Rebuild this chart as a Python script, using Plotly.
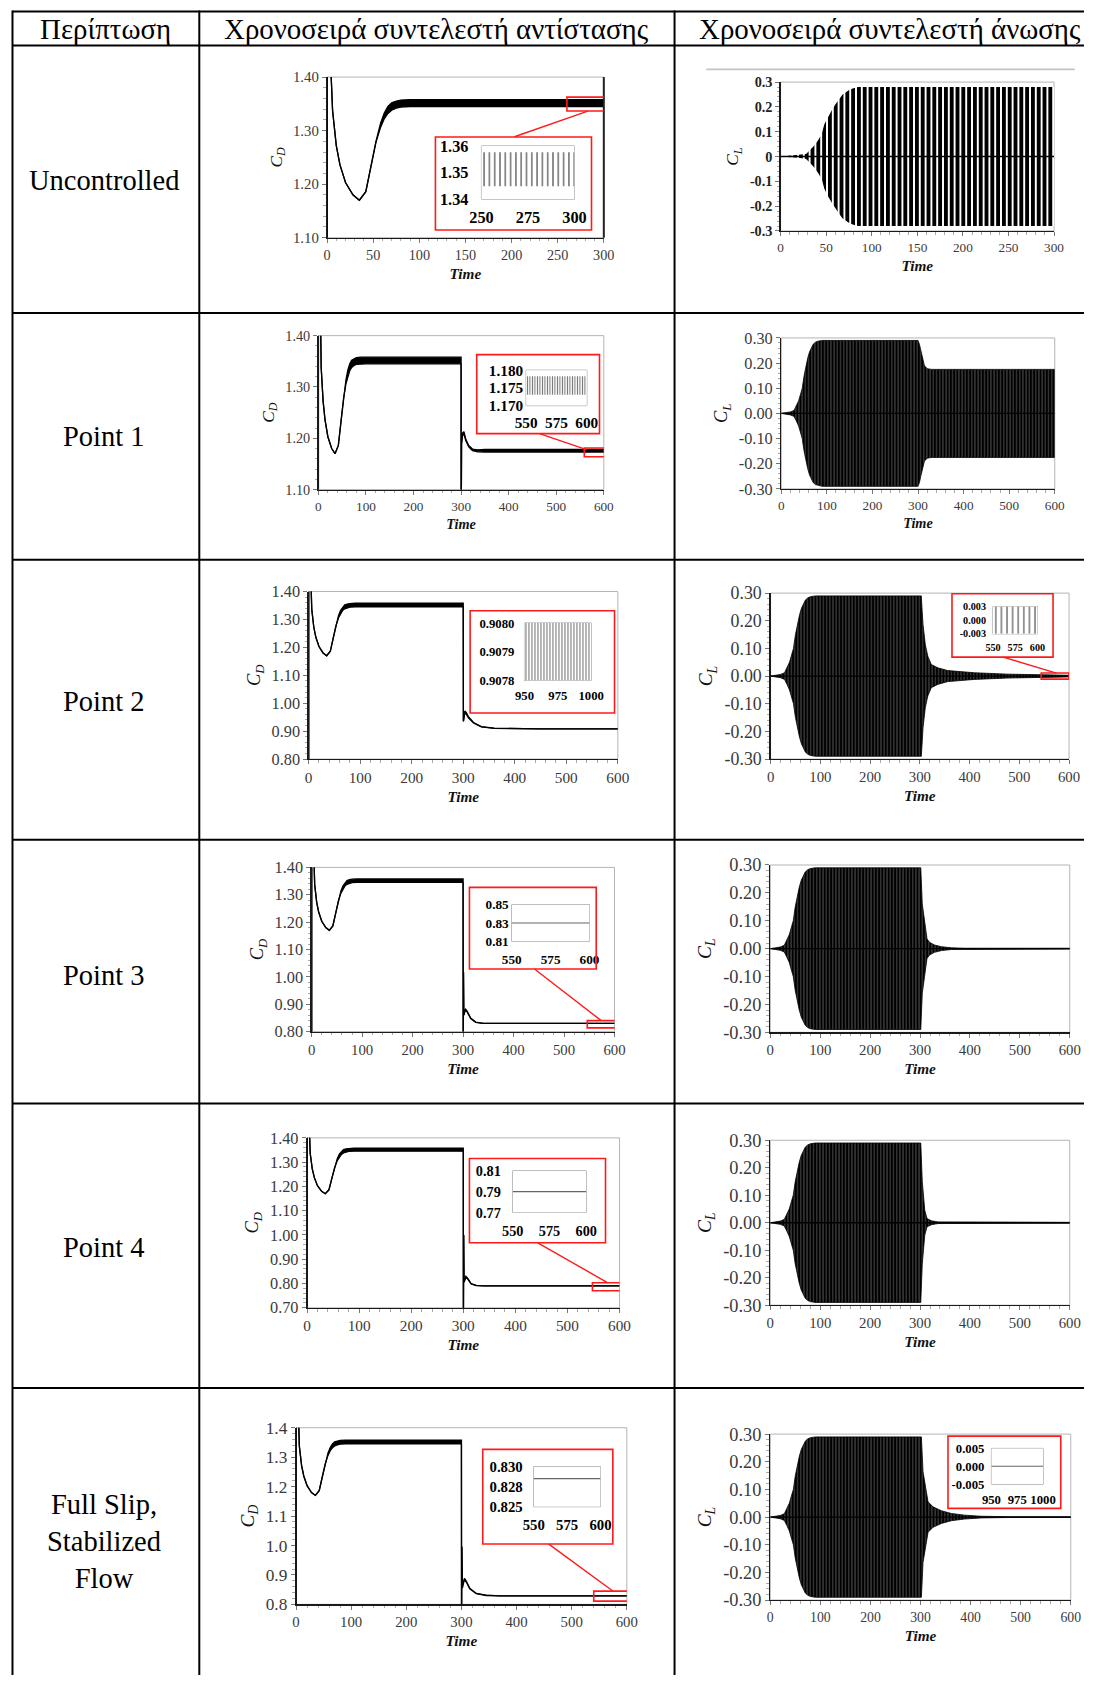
import plotly.graph_objects as go

W, H = 1097, 1685
# calibration of the photographed page: shown = S * page + O (measured on a previous render)
SX, OX = 0.9767, 11.8
SY, OY = 0.9886, 8.9
FSC = 1.0 / 0.982
SERIF = "Liberation Serif"

# ---------------- text ----------------
header_labels = ["Περίπτωση", "Χρονοσειρά συντελεστή αντίστασης", "Χρονοσειρά συντελεστή άνωσης"]
case_labels = ["Uncontrolled", "Point 1", "Point 2", "Point 3", "Point 4", "Full Slip,<br>Stabilized<br>Flow"]

# ---------------- tick values / labels ----------------
time_ticks_300 = [0, 50, 100, 150, 200, 250, 300]
time_ticks_600 = [0, 100, 200, 300, 400, 500, 600]
cd_ticks_a = [1.10, 1.20, 1.30, 1.40]
cd_text_a = ["1.10", "1.20", "1.30", "1.40"]
cd_ticks_b = [0.80, 0.90, 1.00, 1.10, 1.20, 1.30, 1.40]
cd_text_b = ["0.80", "0.90", "1.00", "1.10", "1.20", "1.30", "1.40"]
cd_ticks_c = [0.70, 0.80, 0.90, 1.00, 1.10, 1.20, 1.30, 1.40]
cd_text_c = ["0.70", "0.80", "0.90", "1.00", "1.10", "1.20", "1.30", "1.40"]
cd_text_d = ["0.8", "0.9", "1.0", "1.1", "1.2", "1.3", "1.4"]
cl_ticks = [-0.3, -0.2, -0.1, 0.0, 0.1, 0.2, 0.3]
cl_text_unc = ["-0.3", "-0.2", "-0.1", "0", "0.1", "0.2", "0.3"]
cl_text = ["-0.30", "-0.20", "-0.10", "0.00", "0.10", "0.20", "0.30"]

# ---------------- drag coefficient (upper / lower of the oscillation band) ----------------
cd_base_t = [0, 0.3, 2, 4, 6, 10, 14, 20, 28, 35, 42, 48, 53, 58, 62, 66, 70, 75, 80, 90, 100, 300]
cd_base_hi = [0.50, 3.00, 1.60, 1.42, 1.337, 1.272, 1.236, 1.203, 1.180, 1.170, 1.186, 1.236,
              1.280, 1.314, 1.333, 1.345, 1.352, 1.355, 1.357, 1.358, 1.358, 1.358]
cd_base_lo = [0.50, 3.00, 1.60, 1.42, 1.337, 1.272, 1.236, 1.203, 1.180, 1.170, 1.186, 1.236,
              1.278, 1.306, 1.322, 1.332, 1.338, 1.342, 1.344, 1.345, 1.345, 1.345]

cd_p1_t = [300.2, 301, 303, 306, 310, 316, 324, 335, 350, 600]
cd_p1_hi = [1.00, 1.190, 1.210, 1.213, 1.198, 1.186, 1.179, 1.1775, 1.1783, 1.1783]
cd_p1_lo = [1.00, 1.190, 1.205, 1.208, 1.195, 1.183, 1.176, 1.1735, 1.1731, 1.1731]

cd_p2_t = [300.3, 301.5, 303, 306, 310, 320, 335, 360, 400, 450, 600]
cd_p2_hi = [0.935, 0.962, 0.972, 0.966, 0.952, 0.931, 0.916, 0.911, 0.9087, 0.9080, 0.9080]
cd_p2_lo = [0.935, 0.955, 0.965, 0.960, 0.948, 0.929, 0.915, 0.910, 0.9085, 0.9078, 0.9078]

cd_p3_t = [300.2, 300.8, 301.5, 303, 305, 308, 315, 325, 340, 600]
cd_p3_hi = [0.70, 1.017, 0.860, 0.875, 0.882, 0.875, 0.850, 0.835, 0.830, 0.830]
cd_p3_lo = [0.70, 1.017, 0.860, 0.870, 0.878, 0.872, 0.848, 0.834, 0.830, 0.830]

cd_p4_t = [300.2, 300.8, 301.5, 302.5, 305, 309, 315, 325, 340, 600]
cd_p4_hi = [0.60, 1.000, 0.810, 0.815, 0.830, 0.820, 0.800, 0.792, 0.790, 0.790]
cd_p4_lo = [0.60, 1.000, 0.805, 0.810, 0.826, 0.817, 0.798, 0.791, 0.790, 0.790]

cd_fs_t = [300.2, 300.8, 301.8, 303, 305.5, 309, 315, 327, 345, 370, 600]
cd_fs_hi = [0.70, 0.996, 0.860, 0.872, 0.888, 0.878, 0.855, 0.837, 0.831, 0.8285, 0.8285]
cd_fs_lo = [0.70, 0.996, 0.855, 0.866, 0.884, 0.875, 0.853, 0.836, 0.830, 0.8285, 0.8285]

# ---------------- lift coefficient (oscillation amplitude envelope) ----------------
cl_unc_t = [0, 10, 20, 28, 32, 36, 41, 45, 48, 52, 56, 60, 64, 68, 72, 76, 80, 85, 90, 300]
cl_unc_amp = [0.0, 0.003, 0.005, 0.010, 0.025, 0.040, 0.065, 0.090, 0.130, 0.160, 0.185,
              0.210, 0.230, 0.250, 0.260, 0.270, 0.275, 0.280, 0.280, 0.280]

cl_base_t = [0, 10, 20, 28, 33, 38, 42, 46, 50, 54, 58, 62, 66, 70, 75, 80, 90, 300]
cl_base_amp = [0.0, 0.003, 0.006, 0.012, 0.030, 0.050, 0.075, 0.100, 0.150, 0.190, 0.220,
               0.245, 0.262, 0.275, 0.283, 0.287, 0.290, 0.290]

cl_p1_t = [303, 306, 310, 314, 320, 330, 600]
cl_p1_amp = [0.275, 0.250, 0.215, 0.190, 0.178, 0.175, 0.175]

cl_p2_t = [303, 304.5, 306.5, 311, 316, 323, 336, 356, 410, 477, 540, 600]
cl_p2_amp = [0.290, 0.240, 0.186, 0.114, 0.072, 0.042, 0.030, 0.020, 0.012, 0.007, 0.004, 0.003]

cl_p3_t = [301.5, 304.5, 309, 314, 319, 329, 343, 363, 390, 600]
cl_p3_amp = [0.290, 0.160, 0.100, 0.035, 0.023, 0.013, 0.007, 0.003, 0.0015, 0.0015]

cl_p4_t = [301.5, 304.5, 309.5, 314, 323, 336, 600]
cl_p4_amp = [0.290, 0.150, 0.045, 0.015, 0.007, 0.003, 0.0015]

cl_fs_t = [301.7, 305, 309.7, 315, 325, 341.6, 361.6, 388, 421, 475, 600]
cl_fs_amp = [0.290, 0.164, 0.116, 0.055, 0.037, 0.023, 0.013, 0.007, 0.003, 0.0015, 0.0015]

# ---------------- zoomed insets ----------------
ins_unc_t = [250, 300]
ins_unc_hi = [1.3577, 1.3577]
ins_unc_lo = [1.3448, 1.3448]
ins_unc_yt = [1.34, 1.35, 1.36]
ins_unc_ytxt = ["1.34", "1.35", "1.36"]
ins_xt_250 = [250, 275, 300]
ins_xt_550 = [550, 575, 600]
ins_xt_950 = [950, 975, 1000]

ins_p1_t = [550, 600]
ins_p1_hi = [1.1783, 1.1783]
ins_p1_lo = [1.1731, 1.1731]
ins_p1_yt = [1.170, 1.175, 1.180]
ins_p1_ytxt = ["1.170", "1.175", "1.180"]

ins_p2_t = [950, 1000]
ins_p2_hi = [0.90800, 0.90800]
ins_p2_lo = [0.90780, 0.90780]
ins_p2_yt = [0.9078, 0.9079, 0.9080]
ins_p2_ytxt = ["0.9078", "0.9079", "0.9080"]

ins_p2cl_t = [550, 600]
ins_p2cl_hi = [0.003, 0.003]
ins_p2cl_lo = [-0.003, -0.003]
ins_p2cl_yt = [-0.003, 0.0, 0.003]
ins_p2cl_ytxt = ["-0.003", "0.000", "0.003"]

ins_p3_t = [550, 600]
ins_p3_v = [0.83, 0.83]
ins_p3_yt = [0.81, 0.83, 0.85]
ins_p3_ytxt = ["0.81", "0.83", "0.85"]

ins_p4_t = [550, 600]
ins_p4_v = [0.79, 0.79]
ins_p4_yt = [0.77, 0.79, 0.81]
ins_p4_ytxt = ["0.77", "0.79", "0.81"]

ins_fs_t = [550, 600]
ins_fs_v = [0.8285, 0.8285]
ins_fs_yt = [0.825, 0.8275, 0.830]
ins_fs_ytxt = ["0.825", "0.828", "0.830"]

ins_fscl_t = [950, 1000]
ins_fscl_v = [0.0, 0.0]
ins_fscl_yt = [-0.005, 0.0, 0.005]
ins_fscl_ytxt = ["-0.005", "0.000", "0.005"]

# =====================================================================
fig = go.Figure()
layout = {}
shapes = []
annotations = []
counter = [0]


def px(x):
    return min(max(((x - OX) / SX) / W, 0.5 / W), 1.0)


def py(y):
    return max(min(1 - ((y - OY) / SY) / H, 1 - 0.5 / H), 0.0)


def fs(v):
    return round(v * FSC, 2)


def dom(box):
    x0, x1, y0, y1 = box
    return [px(x0), px(x1)], [py(y1), py(y0)]


def new_axes(box, xcfg, ycfg):
    counter[0] += 1
    n = counter[0]
    s = "" if n == 1 else str(n)
    xd, yd = dom(box)
    xcfg.update(domain=xd, anchor="y" + s)
    ycfg.update(domain=yd, anchor="x" + s)
    layout["xaxis" + s] = xcfg
    layout["yaxis" + s] = ycfg
    return "x" + s, "y" + s


def main_axis(rng, tv, tt, fsize, minor_dtick, title, tsize, bold=False, color="#3a3a3a",
              tstyle="normal", tweight="normal"):
    return dict(
        range=rng, tickmode="array", tickvals=tv, ticktext=tt,
        showline=True, linecolor="#1a1a1a", linewidth=1.3,
        ticks="outside", ticklen=4, tickcolor="#777", tickwidth=1,
        minor=dict(ticks="outside", ticklen=2.5, tickcolor="#aaa", tickmode="linear",
                   tick0=rng[0], dtick=minor_dtick, showgrid=False),
        tickfont=dict(family=SERIF, size=fs(fsize), color=color, weight="bold" if bold else "normal"),
        showgrid=False, zeroline=False, fixedrange=True,
        title=dict(text=title, font=dict(family=SERIF, size=fs(tsize), color="#111",
                                         style=tstyle, weight=tweight), standoff=6),
    )


def time_axis(xr, xt, xfs, tfs):
    return main_axis(xr, xt, [str(v) for v in xt], xfs, xr[1] / 30, "Time", tfs,
                     tstyle="italic", tweight="bold")


def frame(xa, ya, color="#b4b4b4", width=1):
    shapes.append(dict(type="rect", xref=xa + " domain", yref=ya + " domain", x0=0, x1=1, y0=0, y1=1,
                       line=dict(color=color, width=width), layer="below"))


def cd_panel(box, t, hi, lo, xr, xt, xfs, yr, yt, ytxt, yfs, tfs, ylabfs):
    xa, ya = new_axes(box, time_axis(xr, xt, xfs, tfs),
                      main_axis(yr, yt, ytxt, yfs, 0.02, "<i>C<sub>D</sub></i>", ylabfs))
    frame(xa, ya)
    fig.add_trace(go.Scatter(x=t, y=hi, mode="lines", line=dict(color="black", width=1.3),
                             xaxis=xa, yaxis=ya, showlegend=False, hoverinfo="skip"))
    fig.add_trace(go.Scatter(x=t, y=lo, mode="lines", line=dict(color="black", width=1.3),
                             fill="tonexty", fillcolor="black",
                             xaxis=xa, yaxis=ya, showlegend=False, hoverinfo="skip"))
    return xa, ya


def cl_panel(box, t, amp, xr, xt, xfs, ytxt, yfs, tfs, ylabfs, pattern, edge, bold=False):
    xa, ya = new_axes(box, time_axis(xr, xt, xfs, tfs),
                      main_axis([-0.3, 0.3], cl_ticks, ytxt, yfs, 0.02, "<i>C<sub>L</sub></i>", ylabfs,
                                bold=bold, color="#222" if bold else "#3a3a3a"))
    frame(xa, ya)
    xs = list(t) + list(t)[::-1]
    ys = list(amp) + [-a for a in amp][::-1]
    fig.add_trace(go.Scatter(x=xs, y=ys, mode="lines", fill="toself",
                             line=dict(color="black", width=edge), fillpattern=pattern,
                             xaxis=xa, yaxis=ya, showlegend=False, hoverinfo="skip"))
    mid = [(a + (-a)) / 2 for a in amp]
    fig.add_trace(go.Scatter(x=t, y=mid, mode="lines", line=dict(color="black", width=1.4),
                             xaxis=xa, yaxis=ya, showlegend=False, hoverinfo="skip"))
    return xa, ya


# dense cycles: black with thin light gaps; uncontrolled: separate black strokes
DENSE = dict(shape="|", size=3.2, solidity=0.16, fgcolor="#9a9a9a", bgcolor="black", fillmode="replace")
SPARSE = dict(shape="|", size=5.8, solidity=0.66, fgcolor="black", bgcolor="white", fillmode="replace")


def inset_axes(box, xr, xt, yr, yt, ytxt, fsize, ygap, xgap):
    ax = dict(range=xr, tickmode="array", tickvals=xt, ticktext=[str(v) for v in xt],
              showline=False, ticks="", showgrid=False, zeroline=False, fixedrange=True,
              ticklabelstandoff=xgap,
              tickfont=dict(family=SERIF, size=fs(fsize), color="black", weight="bold"))
    ay = dict(range=yr, tickmode="array", tickvals=yt, ticktext=ytxt,
              showline=False, ticks="", showgrid=False, zeroline=False, fixedrange=True,
              ticklabelstandoff=ygap,
              tickfont=dict(family=SERIF, size=fs(fsize), color="black", weight="bold"))
    xa, ya = new_axes(box, ax, ay)
    frame(xa, ya, color="#8c8c8c", width=1)
    return xa, ya


def inset_band(xa, ya, t, hi, lo, stripe, solidity):
    xs = list(t) + list(t)[::-1]
    ys = list(hi) + list(lo)[::-1]
    fig.add_trace(go.Scatter(x=xs, y=ys, mode="lines", fill="toself", line=dict(width=0, color="#777"),
                             fillpattern=dict(shape="|", size=stripe, solidity=solidity,
                                              fgcolor="#6e6e6e", bgcolor="white", fillmode="replace"),
                             xaxis=xa, yaxis=ya, showlegend=False, hoverinfo="skip"))


def inset_line(xa, ya, t, v):
    fig.add_trace(go.Scatter(x=t, y=v, mode="lines", line=dict(color="#666", width=1.2),
                             xaxis=xa, yaxis=ya, showlegend=False, hoverinfo="skip"))


def red_box(b):
    x0, x1, y0, y1 = b
    shapes.append(dict(type="rect", xref="paper", yref="paper", x0=px(x0), x1=px(x1),
                       y0=py(y1), y1=py(y0), line=dict(color="#ff1a1a", width=1.6),
                       fillcolor="rgba(0,0,0,0)", layer="above"))


def red_zoom(xa, ya, xr, yr):
    shapes.append(dict(type="rect", xref=xa, yref=ya, x0=xr[0], x1=xr[1], y0=yr[0], y1=yr[1],
                       line=dict(color="#ff1a1a", width=1.6), layer="above"))


def connector(p0, p1):
    shapes.append(dict(type="line", xref="paper", yref="paper", x0=px(p0[0]), y0=py(p0[1]),
                       x1=px(p1[0]), y1=py(p1[1]), line=dict(color="#ff1a1a", width=1.4),
                       layer="above"))


# ---------------- Uncontrolled ----------------
xa, ya = cd_panel((326.7, 603.3, 76, 236.7), cd_base_t, cd_base_hi, cd_base_lo,
                  [0, 300], time_ticks_300, 14, [1.10, 1.40], cd_ticks_a, cd_text_a, 14.5, 15, 17)
shapes.append(dict(type="line", xref=xa + " domain", yref=ya + " domain", x0=1, x1=1, y0=0, y1=1,
                   line=dict(color="#222", width=2)))
red_zoom(xa, ya, [260, 304], [1.3365, 1.3625])
red_box((435, 591, 136, 229))
connector((514, 135.7), (587.3, 110))
ia, ib = inset_axes((481, 574, 145, 198), [250, 300], ins_xt_250, [1.34, 1.36], ins_unc_yt, ins_unc_ytxt, 16, 12, 7)
inset_band(ia, ib, ins_unc_t, ins_unc_hi, ins_unc_lo, 5.3, 0.28)

cl_panel((780, 1053.3, 81, 230), cl_unc_t, cl_unc_amp, [0, 300], time_ticks_300, 13,
         cl_text_unc, 14, 15, 17, SPARSE, 0, bold=True)
shapes.append(dict(type="line", xref="paper", yref="paper", x0=px(705.7), x1=px(1074),
                   y0=py(68.3), y1=py(68.3), line=dict(color="#c4c4c4", width=1.6)))

# ---------------- Point 1 ----------------
xa, ya = cd_panel((318, 603.3, 334.7, 488.7), cd_base_t + cd_p1_t, cd_base_hi + cd_p1_hi, cd_base_lo + cd_p1_lo,
                  [0, 600], time_ticks_600, 13, [1.10, 1.40], cd_ticks_a, cd_text_a, 14, 14, 17)
red_zoom(xa, ya, [559, 604], [1.164, 1.181])
red_box((476.3, 599, 353.7, 432.7))
connector((539, 432.7), (586, 448.7))
ia, ib = inset_axes((525.7, 586.3, 369.3, 404.7), [550, 600], ins_xt_550, [1.170, 1.180], ins_p1_yt, ins_p1_ytxt, 15, 2, 6)
inset_band(ia, ib, ins_p1_t, ins_p1_hi, ins_p1_lo, 2.5, 0.4)

cl_panel((780.7, 1054, 337, 488), cl_base_t + cl_p1_t, cl_base_amp + cl_p1_amp, [0, 600], time_ticks_600, 13,
         cl_text, 16, 14, 18, DENSE, 0.8)

# ---------------- Point 2 ----------------
xa, ya = cd_panel((308.3, 617.3, 590.7, 758.3), cd_base_t + cd_p2_t, cd_base_hi + cd_p2_hi, cd_base_lo + cd_p2_lo,
                  [0, 600], time_ticks_600, 15, [0.80, 1.40], cd_ticks_b, cd_text_b, 16, 15, 18)
red_box((469.7, 614, 610, 712.3))
ia, ib = inset_axes((524, 590.7, 622.3, 679.7), [950, 1000], ins_xt_950, [0.9078, 0.9080], ins_p2_yt, ins_p2_ytxt, 12.5, 9, 6)
inset_band(ia, ib, ins_p2_t, ins_p2_hi, ins_p2_lo, 3.0, 0.35)

xa, ya = cl_panel((770, 1068.3, 592.3, 758.3), cl_base_t + cl_p2_t, cl_base_amp + cl_p2_amp, [0, 600],
                  time_ticks_600, 14.5, cl_text, 17.5, 15, 19, DENSE, 0.8)
red_zoom(xa, ya, [544, 600], [-0.011, 0.011])
red_box((951.3, 1052.3, 593, 656.3))
connector((1002.3, 656.3), (1055.7, 672.3))
ia, ib = inset_axes((992.3, 1036.7, 605.7, 633), [550, 600], ins_xt_550, [-0.003, 0.003], ins_p2cl_yt,
                    ins_p2cl_ytxt, 10, 6, 6)
inset_band(ia, ib, ins_p2cl_t, ins_p2cl_hi, ins_p2cl_lo, 5.6, 0.25)

# ---------------- Point 3 ----------------
xa, ya = cd_panel((311.3, 614, 866.7, 1031), cd_base_t + cd_p3_t, cd_base_hi + cd_p3_hi, cd_base_lo + cd_p3_lo,
                  [0, 600], time_ticks_600, 14.5, [0.80, 1.40], cd_ticks_b, cd_text_b, 16, 15, 18)
red_zoom(xa, ya, [546, 603], [0.8135, 0.840])
red_box((469, 595.7, 886.7, 968.3))
connector((534, 968.3), (600.7, 1020))
ia, ib = inset_axes((511.3, 589, 904, 940.7), [550, 600], ins_xt_550, [0.81, 0.85], ins_p3_yt, ins_p3_ytxt, 13, 2, 8)
inset_line(ia, ib, ins_p3_t, ins_p3_v)

cl_panel((769.7, 1069, 864.3, 1031.7), cl_base_t + cl_p3_t, cl_base_amp + cl_p3_amp, [0, 600], time_ticks_600,
         14.5, cl_text, 18, 15, 19, DENSE, 0.8)

# ---------------- Point 4 ----------------
xa, ya = cd_panel((306.7, 619, 1137.3, 1307.3), cd_base_t + cd_p4_t, cd_base_hi + cd_p4_hi, cd_base_lo + cd_p4_lo,
                  [0, 600], time_ticks_600, 15, [0.70, 1.40], cd_ticks_c, cd_text_c, 16, 15, 18)
red_zoom(xa, ya, [548, 604], [0.77, 0.803])
red_box((469, 605, 1158, 1242.3))
connector((537.3, 1242.3), (607.3, 1282.3))
ia, ib = inset_axes((512.3, 585.7, 1170.3, 1212), [550, 600], ins_xt_550, [0.77, 0.81], ins_p4_yt, ins_p4_ytxt, 14, 11, 8)
inset_line(ia, ib, ins_p4_t, ins_p4_v)

cl_panel((769.7, 1069, 1139.7, 1304.7), cl_base_t + cl_p4_t, cl_base_amp + cl_p4_amp, [0, 600], time_ticks_600,
         14.5, cl_text, 18, 15, 19, DENSE, 0.8)

# ---------------- Full slip ----------------
xa, ya = cd_panel((295.7, 626.3, 1427.3, 1604), cd_base_t + cd_fs_t, cd_base_hi + cd_fs_hi, cd_base_lo + cd_fs_lo,
                  [0, 600], time_ticks_600, 14.5, [0.80, 1.40], cd_ticks_b, cd_text_d, 17, 15, 19)
red_zoom(xa, ya, [540, 607], [0.811, 0.845])
red_box((482.3, 612.3, 1449, 1543.7))
connector((548.3, 1543.7), (612.3, 1590.7))
ia, ib = inset_axes((533.3, 600, 1466.3, 1506.3), [550, 600], ins_xt_550, [0.825, 0.830], ins_fs_yt, ins_fs_ytxt, 14.5, 10, 8)
inset_line(ia, ib, ins_fs_t, ins_fs_v)

cl_panel((769.7, 1070, 1433.7, 1599.7), cl_base_t + cl_fs_t, cl_base_amp + cl_fs_amp, [0, 600], time_ticks_600,
         13.5, cl_text, 18, 15, 19, DENSE, 0.8)
red_box((947.3, 1060, 1435.7, 1508))
ia, ib = inset_axes((990.7, 1042.3, 1448, 1483.7), [950, 1000], ins_xt_950, [-0.005, 0.005], ins_fscl_yt,
                    ins_fscl_ytxt, 12.5, 6, 6)
inset_line(ia, ib, ins_fscl_t, ins_fscl_v)

# ---------------- table grid ----------------
row_lines = [10.5, 44.5, 312, 559, 839, 1103, 1387.5]
col_lines = [11, 199, 674]
for y in row_lines:
    shapes.append(dict(type="line", xref="paper", yref="paper", x0=px(10), x1=1.0,
                       y0=py(y), y1=py(y), line=dict(color="black", width=2)))
for x in col_lines:
    shapes.append(dict(type="line", xref="paper", yref="paper", x0=px(x), x1=px(x),
                       y0=0, y1=py(9.5), line=dict(color="black", width=2)))

header_x = [105, 436, 889]
for txt, x in zip(header_labels, header_x):
    annotations.append(dict(text=txt, x=px(x), y=py(28), xref="paper", yref="paper",
                            xanchor="center", yanchor="middle", showarrow=False,
                            font=dict(family=SERIF, size=fs(28.4), color="black")))
case_y = [179.4, 436, 700.5, 974.5, 1247.4, 1540.7]
for txt, y in zip(case_labels, case_y):
    annotations.append(dict(text=txt, x=px(104), y=py(y), xref="paper", yref="paper",
                            xanchor="center", yanchor="middle", showarrow=False,
                            font=dict(family=SERIF, size=fs(28), color="black")))

layout.update(width=W, height=H, margin=dict(l=0, r=0, t=0, b=0), autosize=False,
              paper_bgcolor="white", plot_bgcolor="white", showlegend=False,
              shapes=shapes, annotations=annotations)
fig.update_layout(**layout)
fig.write_html("out.html", config={"displayModeBar": False, "staticPlot": True},
               post_script="document.body.style.margin='0';document.body.style.overflow='hidden';"
                           "document.documentElement.style.overflow='hidden';")
